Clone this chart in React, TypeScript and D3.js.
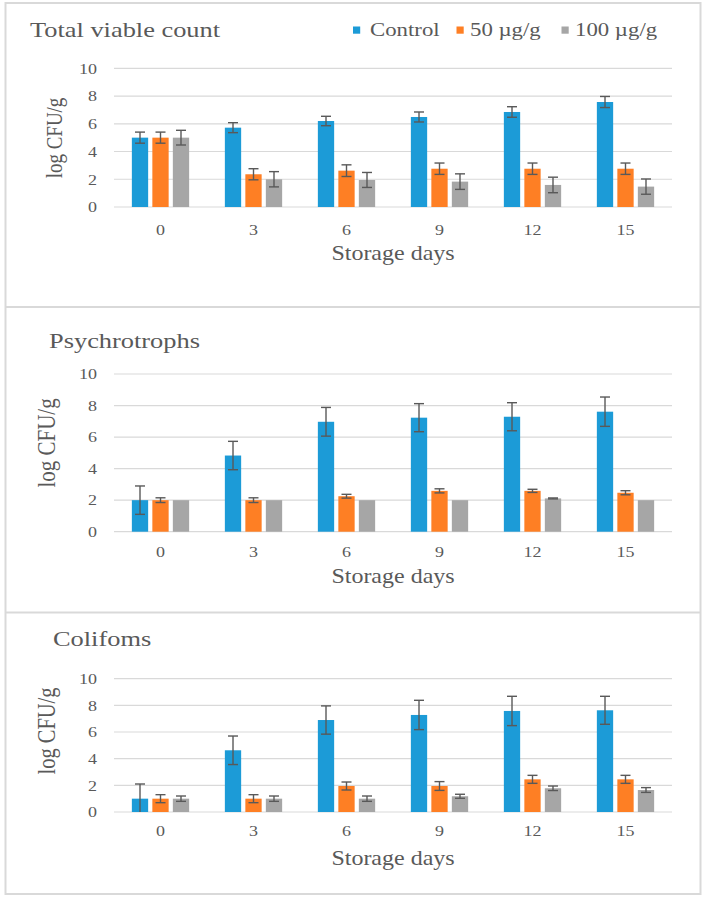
import React from "react";
import * as d3 from "d3";

// ---------- data ----------
const days = ["0", "3", "6", "9", "12", "15"];
const seriesNames = ["Control", "50 µg/g", "100 µg/g"];
const yTicks = [0, 2, 4, 6, 8, 10];

// Total viable count
const tvcControl = [5.0, 5.72, 6.2, 6.49, 6.85, 7.57];
const tvcControlErr = [0.4, 0.36, 0.34, 0.36, 0.38, 0.4];
const tvc50 = [5.0, 2.36, 2.62, 2.76, 2.76, 2.76];
const tvc50Err = [0.4, 0.4, 0.42, 0.41, 0.41, 0.41];
const tvc100 = [5.0, 2.0, 1.95, 1.83, 1.59, 1.47];
const tvc100Err = [0.53, 0.55, 0.54, 0.56, 0.56, 0.55];

// Psychrotrophs
const psyControl = [2.0, 4.83, 6.97, 7.23, 7.29, 7.61];
const psyControlErr = [0.9, 0.9, 0.91, 0.89, 0.89, 0.93];
const psy50 = [2.0, 2.0, 2.25, 2.59, 2.59, 2.47];
const psy50Err = [0.15, 0.15, 0.12, 0.13, 0.1, 0.13];
const psy100 = [2.0, 2.0, 2.0, 2.0, 2.11, 2.0];
const psy100Err = [0, 0, 0, 0, 0.03, 0];

// Coliforms
const colControl = [1.0, 4.63, 6.9, 7.28, 7.58, 7.63];
const colControlErr = [1.1, 1.07, 1.06, 1.1, 1.1, 1.05];
const col50 = [1.0, 1.0, 1.95, 1.95, 2.45, 2.45];
const col50Err = [0.3, 0.3, 0.3, 0.33, 0.3, 0.3];
const col100 = [1.0, 1.0, 1.0, 1.18, 1.78, 1.65];
const col100Err = [0.2, 0.2, 0.2, 0.15, 0.17, 0.18];

// ---------- styles ----------
const colors = ["#1c9bd7", "#fe7f24", "#a6a6a6"];
const FONT = "'Liberation Serif', 'Times New Roman', serif";
const TEXT = "#595959";
const GRID = "#d9d9d9";
const SX = 1.2;

const panels = [
  {
    title: "Total viable count",
    titleX: 30, titleY: 37,
    yTop: 68.3, yBottom: 207,
    catY: 235, xTitleY: 260,
    yTitleX: 62, yTitleY: 138, yTitleSize: 19,
    values: [tvcControl, tvc50, tvc100],
    errors: [tvcControlErr, tvc50Err, tvc100Err],
    legend: true,
  },
  {
    title: "Psychrotrophs",
    titleX: 49, titleY: 348,
    yTop: 374, yBottom: 531.7,
    catY: 556.5, xTitleY: 583,
    yTitleX: 55, yTitleY: 443, yTitleSize: 21,
    values: [psyControl, psy50, psy100],
    errors: [psyControlErr, psy50Err, psy100Err],
    legend: false,
  },
  {
    title: "Colifoms",
    titleX: 53, titleY: 645.7,
    yTop: 678.7, yBottom: 812,
    catY: 836, xTitleY: 865,
    yTitleX: 55, yTitleY: 731, yTitleSize: 20.5,
    values: [colControl, col50, col100],
    errors: [colControlErr, col50Err, col100Err],
    legend: false,
  },
];

const X0 = 114;
const X1 = 672;

function SText(props: {
  x: number; y: number; size: number; anchor?: string; children: React.ReactNode; rotate?: boolean;
}) {
  const { x, y, size, anchor = "start", children, rotate } = props;
  const tr = rotate
    ? `translate(${x},${y}) scale(${SX},1) rotate(-90)`
    : `translate(${x},${y}) scale(${SX},1)`;
  return (
    <text
      transform={tr}
      fontFamily={FONT}
      fontSize={size}
      fill={TEXT}
      textAnchor={anchor}
    >
      {children}
    </text>
  );
}

function Panel({ p }: { p: (typeof panels)[number] }) {
  const x0 = d3.scaleBand<string>().domain(days).range([X0, X1]).padding(0);
  const groupW = x0.bandwidth() * 0.616;
  const x1 = d3
    .scaleBand<string>()
    .domain(seriesNames)
    .range([0, groupW])
    .paddingInner(0.205)
    .paddingOuter(0);
  const groupOff = (x0.bandwidth() - groupW) / 2;
  const y = d3.scaleLinear().domain([0, 10]).range([p.yBottom, p.yTop]);
  const capHalf = 5;

  return (
    <g>
      {/* gridlines */}
      {yTicks.map((t) => (
        <line
          key={"g" + t}
          x1={X0}
          x2={X1}
          y1={y(t)}
          y2={y(t)}
          stroke={GRID}
          strokeWidth={1.2}
        />
      ))}
      {/* y tick labels */}
      {yTicks.map((t) => (
        <SText key={"t" + t} x={97} y={y(t) + 5.3} size={15} anchor="end">
          {t}
        </SText>
      ))}
      {/* bars */}
      {days.map((d, i) =>
        seriesNames.map((s, k) => {
          const v = p.values[k][i];
          const bx = (x0(d) as number) + groupOff + (x1(s) as number);
          return (
            <rect
              key={d + s}
              x={bx}
              y={y(v)}
              width={x1.bandwidth()}
              height={y(0) - y(v)}
              fill={colors[k]}
            />
          );
        })
      )}
      {/* error bars */}
      {days.map((d, i) =>
        seriesNames.map((s, k) => {
          const v = p.values[k][i];
          const e = p.errors[k][i];
          if (e <= 0) return null;
          const cx = (x0(d) as number) + groupOff + (x1(s) as number) + x1.bandwidth() / 2;
          const hi = y(v + e);
          const lo = y(Math.max(0, v - e));
          return (
            <g key={"e" + d + s} stroke="#595959" strokeWidth={1.4}>
              <line x1={cx} x2={cx} y1={hi} y2={lo} />
              <line x1={cx - capHalf} x2={cx + capHalf} y1={hi} y2={hi} />
              {v - e > 0 && <line x1={cx - capHalf} x2={cx + capHalf} y1={lo} y2={lo} />}
            </g>
          );
        })
      )}
      {/* category labels */}
      {days.map((d) => (
        <SText
          key={"c" + d}
          x={(x0(d) as number) + x0.bandwidth() / 2}
          y={p.catY}
          size={15}
          anchor="middle"
        >
          {d}
        </SText>
      ))}
      <SText x={(X0 + X1) / 2} y={p.xTitleY} size={20} anchor="middle">
        Storage days
      </SText>
      <SText x={p.yTitleX} y={p.yTitleY} size={p.yTitleSize} anchor="middle" rotate>
        log CFU/g
      </SText>
      <SText x={p.titleX} y={p.titleY} size={22}>
        {p.title}
      </SText>
    </g>
  );
}

function Legend() {
  const items = [
    { sx: 353, tx: 370 },
    { sx: 456.5, tx: 470 },
    { sx: 561.5, tx: 575 },
  ];
  return (
    <g>
      {seriesNames.map((s, k) => (
        <g key={s}>
          <rect x={items[k].sx} y={26.5} width={7.2} height={7.2} fill={colors[k]} />
          <SText x={items[k].tx} y={36} size={19}>
            {s}
          </SText>
        </g>
      ))}
    </g>
  );
}

export default function App() {
  return (
    <div style={{ position: "absolute", left: 0, top: 0 }}>
      <svg width={703} height={900} style={{ display: "block", background: "#fff" }}>
        <rect x={0} y={0} width={703} height={900} fill="#fff" />
        {/* frames */}
        <rect x={5.5} y={3} width={695} height={891} fill="none" stroke={GRID} strokeWidth={2} />
        <line x1={5.5} x2={700.5} y1={307} y2={307} stroke={GRID} strokeWidth={2} />
        <line x1={5.5} x2={700.5} y1={612.5} y2={612.5} stroke={GRID} strokeWidth={2} />
        {panels.map((p) => (
          <Panel key={p.title} p={p} />
        ))}
        <Legend />
      </svg>
    </div>
  );
}
